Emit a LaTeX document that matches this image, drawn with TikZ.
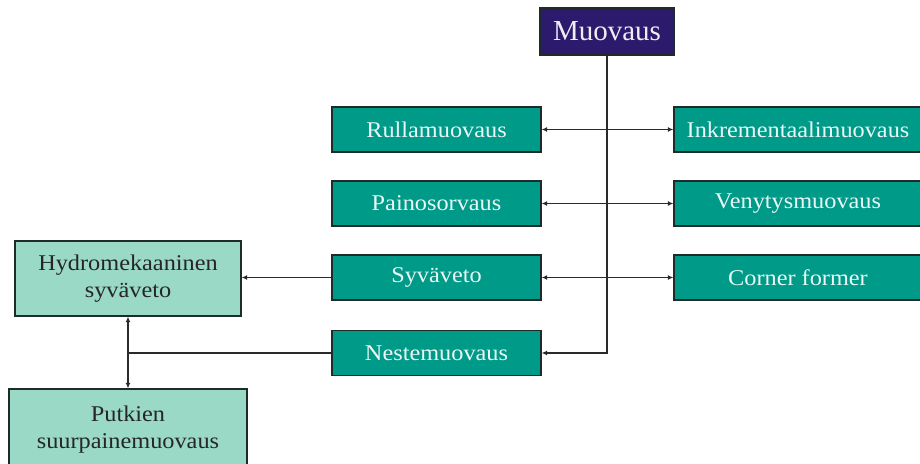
\documentclass[tikz,border=0pt]{standalone}
\usepackage{fontspec}
\setmainfont{Liberation Serif}[FakeStretch=1.08]
\newfontfamily\titlefont{Liberation Serif}
\usetikzlibrary{arrows.meta}
\definecolor{tealbox}{HTML}{009A88}
\definecolor{lighttealbox}{HTML}{99D9C6}
\definecolor{indigobox}{HTML}{2C1A6C}
\definecolor{boxedge}{HTML}{1E2B28}
\definecolor{wire}{HTML}{2A2A2A}
\tikzset{
  x=1pt, y=-1pt,
  methodbox/.style={draw=boxedge, line width=1.3pt, fill=tealbox, text=white!92!tealbox,
    font=\fontsize{22.5}{26}\selectfont, inner sep=0pt, align=center},
  subbox/.style={draw=boxedge, line width=1.3pt, fill=lighttealbox, text=black!85,
    font=\fontsize{22.5}{27}\selectfont, inner sep=0pt, align=center},
  rootbox/.style={draw=boxedge, line width=1.3pt, fill=indigobox, text=white!92!indigobox,
    font=\titlefont\fontsize{29}{32}\selectfont, inner sep=0pt},
  wireline/.style={draw=wire, line width=1.2pt},
  tip/.tip={Latex[length=5.5pt,width=5pt]}
}
\begin{document}
\begin{tikzpicture}
\useasboundingbox (0,0) rectangle (920,463);
\fill[white] (0,0) rectangle (920,463);

% root
\node[rootbox, minimum width=134pt, minimum height=47pt] (root) at (607,31.5) {Muovaus};

% left column of methods
\node[methodbox, minimum width=209pt, minimum height=45pt] (rulla) at (436.5,129.5) {Rullamuovaus};
\node[methodbox, minimum width=209pt, minimum height=45pt] (paino) at (436.5,203.5) {Painosorvaus};
\node[methodbox, minimum width=209pt, minimum height=45pt] (syva) at (436.5,277.5) {Syväveto};
\node[methodbox, minimum width=209pt, minimum height=45pt] (neste) at (436.5,353) {Nestemuovaus};

% right column of methods
\node[methodbox, minimum width=248pt, minimum height=45pt] (inkr) at (798,129.5) {Inkrementaalimuovaus};
\node[methodbox, minimum width=248pt, minimum height=45pt] (veny) at (798,203.5) {Venytysmuovaus};
\node[methodbox, minimum width=248pt, minimum height=45pt] (corner) at (798,277.5) {Corner former};

% sub-methods
\node[subbox, minimum width=226pt, minimum height=75pt] (hydro) at (128,278.5) {Hydromekaaninen\\syväveto};
\node[subbox, minimum width=238pt, minimum height=81pt] (putki) at (128,429.5) {Putkien\\suurpainemuovaus};

% connectors
\draw[wireline, -tip] (root.south) |- (neste.east);
\draw[wireline, tip-tip] (rulla.east) -- (inkr.west);
\draw[wireline, tip-tip] (paino.east) -- (veny.west);
\draw[wireline, tip-tip] (syva.east) -- (corner.west);
\draw[wireline, -tip] (syva.west) -- (syva.west -| hydro.east);
\coordinate (join) at (neste.west -| hydro.south);
\draw[wireline] (neste.west) -- (join);
\draw[wireline, tip-tip] (hydro.south) -- (putki.north);
\end{tikzpicture}
\end{document}
